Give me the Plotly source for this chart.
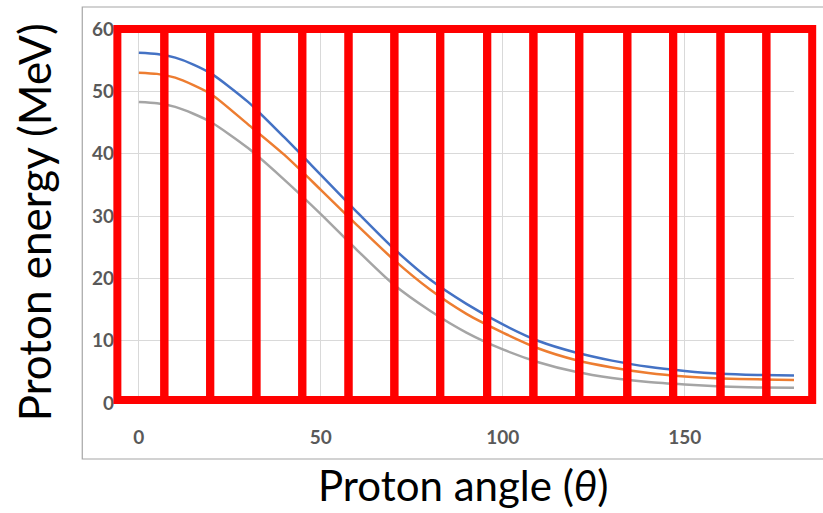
import plotly.graph_objects as go

# ---- data ----
angles = [0, 5, 10, 15, 20, 30, 40, 50, 60, 70, 80, 90, 100, 110, 120, 130, 140, 150, 160, 170, 180]
energy_blue = [56.2, 56.0, 55.4, 54.3, 52.8, 48.3, 42.6, 36.6, 30.6, 24.8, 19.8, 15.9, 12.6, 9.9, 8.1, 6.8, 5.8, 5.15, 4.7, 4.5, 4.4]
energy_orange = [53.0, 52.8, 52.2, 51.0, 49.5, 44.7, 39.8, 34.2, 28.5, 23.0, 18.2, 14.3, 11.3, 8.7, 6.9, 5.7, 4.8, 4.25, 3.95, 3.8, 3.7]
energy_gray = [48.3, 48.1, 47.5, 46.4, 45.0, 40.9, 35.8, 30.3, 24.5, 19.0, 14.8, 11.3, 8.6, 6.5, 5.0, 4.0, 3.35, 2.95, 2.65, 2.5, 2.45]

x_ticks = [0, 50, 100, 150]
y_ticks = [0, 10, 20, 30, 40, 50, 60]

# red highlight boxes: edges in angle units, vertical span in MeV
box_edges = [-5.9, 7.0, 19.6, 32.3, 44.9, 57.6, 70.2, 82.8, 95.7, 108.4, 121.0, 134.2, 146.8, 159.8, 172.4, 185.0]
box_bottom, box_top = 0.5, 60

X_RANGE = [-6, 180]
Y_RANGE = [0, 60]

fig = go.Figure()
for ys, col in [(energy_blue, "#4472C4"), (energy_orange, "#ED7D31"), (energy_gray, "#A5A5A5")]:
    fig.add_trace(go.Scatter(x=angles, y=ys, mode="lines",
                             line=dict(color=col, width=2.5, shape="spline", smoothing=0.7),
                             showlegend=False))

def fx(v):
    return (v - X_RANGE[0]) / (X_RANGE[1] - X_RANGE[0])

def fy(v):
    return (v - Y_RANGE[0]) / (Y_RANGE[1] - Y_RANGE[0])

shapes = []
# chart frame
shapes.append(dict(type="rect", xref="paper", yref="paper", x0=-0.0513, x1=1.12, y0=-0.1497, y1=1.0588,
                   line=dict(color="#A6A6A6", width=1.2), fillcolor="rgba(0,0,0,0)", layer="below"))
for a, b in zip(box_edges[:-1], box_edges[1:]):
    shapes.append(dict(type="rect", xref="x domain", yref="y domain",
                       x0=fx(a), x1=fx(b), y0=fy(box_bottom), y1=fy(box_top),
                       line=dict(color="#FF0000", width=8), fillcolor="rgba(0,0,0,0)", layer="above"))

tickfont = dict(family="Lato", size=19, color="#595959", weight="bold")

fig.update_layout(
    width=823, height=513,
    margin=dict(l=117, r=29, t=29, b=110),
    paper_bgcolor="white", plot_bgcolor="white",
    shapes=shapes,
    xaxis=dict(range=X_RANGE, tickvals=x_ticks, showgrid=True, gridcolor="#D9D9D9", gridwidth=1,
               zeroline=False, showline=False, ticks="", tickfont=tickfont, ticklabelstandoff=21),
    yaxis=dict(range=Y_RANGE, tickvals=y_ticks, showgrid=True, gridcolor="#D9D9D9", gridwidth=1,
               zeroline=False, showline=False, ticks="", tickfont=tickfont, ticklabelstandoff=2),
    annotations=[
        dict(text="Proton angle (<i>θ</i>)", xref="paper", yref="paper",
             x=(463 - 116.7) / 677, y=(403 - 485) / 374, xanchor="center", yanchor="middle",
             showarrow=False, font=dict(family="Lato", size=42, color="black")),
        dict(text="Proton energy (MeV)", xref="paper", yref="paper", textangle=-90,
             x=(34 - 116.7) / 677, y=(403 - 222) / 374, xanchor="center", yanchor="middle",
             showarrow=False, font=dict(family="Lato", size=44, color="black")),
    ],
)

fig.write_html("out.html")
